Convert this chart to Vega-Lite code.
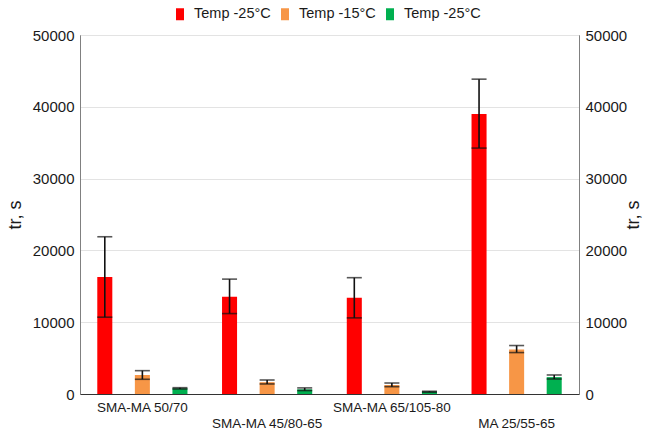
{
  "$schema": "https://vega.github.io/schema/vega-lite/v6.json",
  "width": 499,
  "height": 359,
  "autosize": {"type": "none"},
  "padding": {"left": 80, "top": 35, "right": 71, "bottom": 38},
  "config": {
    "font": "Liberation Sans",
    "view": {"stroke": "#808080", "strokeWidth": 1},
    "axis": {"labelFont": "Liberation Sans", "titleFont": "Liberation Sans", "labelColor": "#1a1a1a", "titleColor": "#1a1a1a"}
  },
  "data": {
    "values": [
      {"cat": "SMA-MA 50/70", "s": "A", "v": 16300, "lo": 10700, "hi": 21900},
      {"cat": "SMA-MA 50/70", "s": "B", "v": 2650, "lo": 2050, "hi": 3250},
      {"cat": "SMA-MA 50/70", "s": "C", "v": 790, "lo": 700, "hi": 880},
      {"cat": "SMA-MA 45/80-65", "s": "A", "v": 13550, "lo": 11200, "hi": 16000},
      {"cat": "SMA-MA 45/80-65", "s": "B", "v": 1650, "lo": 1400, "hi": 1950},
      {"cat": "SMA-MA 45/80-65", "s": "C", "v": 650, "lo": 480, "hi": 850},
      {"cat": "SMA-MA 65/105-80", "s": "A", "v": 13400, "lo": 10600, "hi": 16200},
      {"cat": "SMA-MA 65/105-80", "s": "B", "v": 1250, "lo": 1020, "hi": 1530},
      {"cat": "SMA-MA 65/105-80", "s": "C", "v": 320, "lo": 260, "hi": 380},
      {"cat": "MA 25/55-65", "s": "A", "v": 39000, "lo": 34250, "hi": 43850},
      {"cat": "MA 25/55-65", "s": "B", "v": 6200, "lo": 5770, "hi": 6750},
      {"cat": "MA 25/55-65", "s": "C", "v": 2350, "lo": 2090, "hi": 2650}
    ]
  },
  "encoding": {
    "x": {
      "field": "cat", "type": "nominal", "sort": null,
      "scale": {"paddingInner": 0, "paddingOuter": 0},
      "axis": {
        "title": null, "labelAngle": 0, "labelFontSize": 13.5, "labelPadding": 6,
        "labelLineHeight": 16, "ticks": false, "domainColor": "#333333", "domainWidth": 1.2,
        "labelExpr": "indexof(['SMA-MA 45/80-65','MA 25/55-65'], datum.value) >= 0 ? ['', datum.value] : datum.value"
      }
    },
    "xOffset": {"field": "s", "type": "nominal", "scale": {"paddingInner": 0.6, "paddingOuter": 0.46}}
  },
  "layer": [
    {
      "mark": {"type": "bar"},
      "encoding": {
        "y": {
          "field": "v", "type": "quantitative",
          "scale": {"domain": [0, 50000], "nice": false},
          "axis": {
            "title": "tr, s", "titleFontSize": 18, "titleFontWeight": "normal", "titlePadding": 8,
            "labelFontSize": 15, "labelPadding": 6, "format": "d", "labelOverlap": false,
            "values": [0, 10000, 20000, 30000, 40000, 50000],
            "ticks": false, "domainColor": "#808080", "gridColor": "#e3e3e3", "grid": true
          }
        },
        "color": {
          "field": "s", "type": "nominal",
          "scale": {"domain": ["A", "B", "C"], "range": ["#ff0000", "#f79646", "#00b050"]},
          "legend": {
            "title": null, "orient": "none", "direction": "horizontal", "legendX": 92, "legendY": -29,
            "labelExpr": "datum.value == 'B' ? 'Temp -15°C' : 'Temp -25°C'",
            "labelFontSize": 14.5, "labelColor": "#1a1a1a", "labelFont": "Liberation Sans",
            "symbolType": "M-0.5,-0.75H0.5V0.75H-0.5Z", "symbolSize": 256, "symbolStrokeWidth": 0,
            "labelOffset": 6, "columnPadding": 6
          }
        }
      }
    },
    {
      "mark": {"type": "rule", "color": "#111111", "strokeWidth": 1.6},
      "encoding": {
        "y": {"field": "lo", "type": "quantitative", "axis": null},
        "y2": {"field": "hi"}
      }
    },
    {
      "mark": {"type": "tick", "color": "#111111", "thickness": 1.6, "size": 15},
      "encoding": {"y": {"field": "lo", "type": "quantitative", "axis": null}}
    },
    {
      "mark": {"type": "tick", "color": "#111111", "thickness": 1.6, "size": 15},
      "encoding": {
        "y": {
          "field": "hi", "type": "quantitative",
          "scale": {"domain": [0, 50000], "nice": false},
          "axis": {
            "orient": "right", "title": "tr, s", "titleFontSize": 18, "titleFontWeight": "normal",
            "titleAngle": 270, "titlePadding": 16, "format": "d", "labelOverlap": false,
            "labelFontSize": 15, "labelPadding": 6, "values": [0, 10000, 20000, 30000, 40000, 50000],
            "ticks": false, "domainColor": "#808080", "grid": false
          }
        }
      }
    }
  ],
  "resolve": {"scale": {"y": "shared"}, "axis": {"y": "independent"}}
}
